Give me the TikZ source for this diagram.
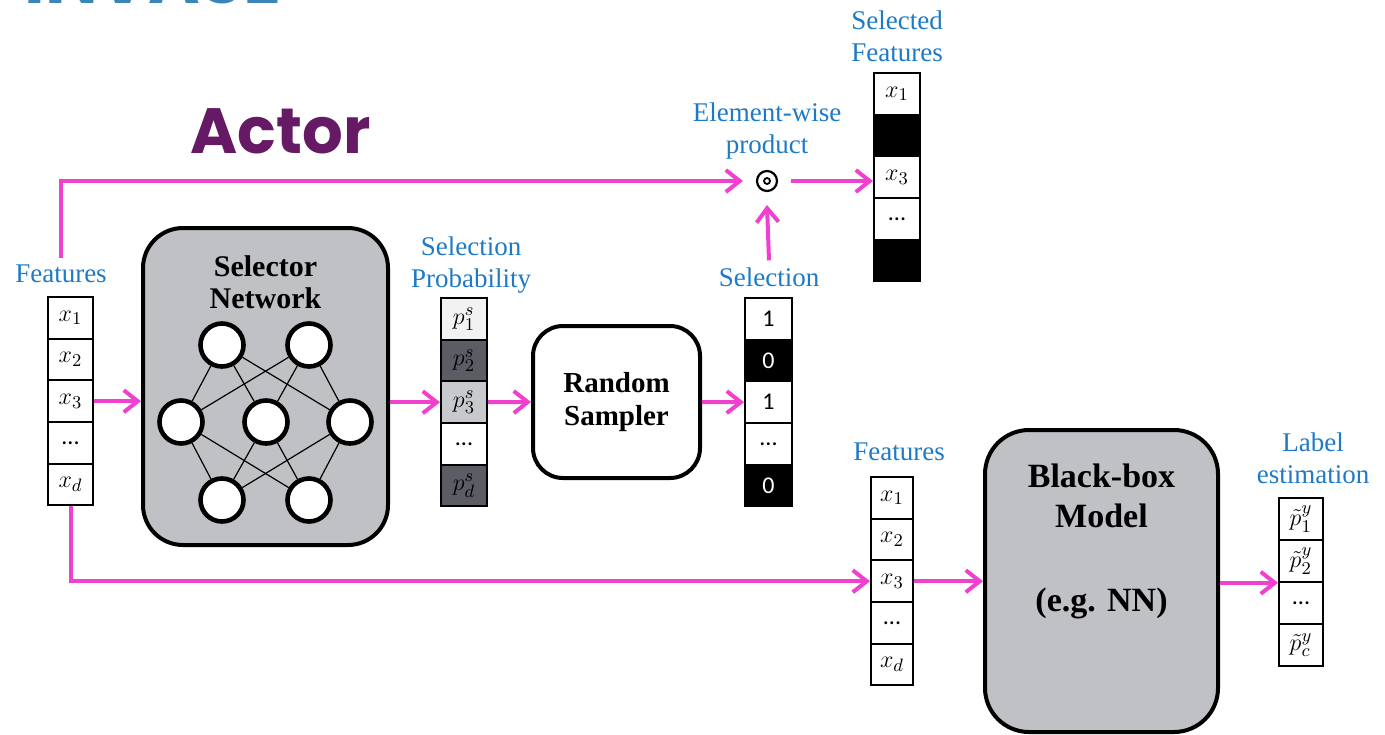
\documentclass[tikz,border=0pt]{standalone}
\usepackage{fontspec}
\setmainfont{Liberation Serif}
\newfontfamily\calfont{Carlito}
\newfontfamily\titlefont{Poppins}
\usetikzlibrary{arrows.meta}
\definecolor{flowpink}{RGB}{240,64,208}
\definecolor{labelblue}{RGB}{30,122,198}
\definecolor{titleblue}{RGB}{58,134,186}
\definecolor{actorpurple}{RGB}{102,26,102}
\definecolor{boxgray}{RGB}{192,193,197}
\definecolor{darkcell}{RGB}{92,93,100}
\definecolor{midcell}{RGB}{200,201,204}
\definecolor{lightcell}{RGB}{242,242,242}
\newcommand{\celldots}{{\calfont\fontsize{12}{12}\selectfont ...}}
\begin{document}
\begin{tikzpicture}[x=0.5pt,y=-0.5pt,
  lbl/.style={text=labelblue, font=\fontsize{13.5}{16}\selectfont, align=center},
  cellbox/.style={draw, line width=1pt, minimum height=20.8pt, inner sep=0pt,
    font=\fontsize{12.5}{12.5}\selectfont},
  numcell/.style={cellbox, font=\calfont\fontsize{12}{12}\selectfont},
  blk/.style={fill=black, text=white},
  bigbox/.style={draw, line width=2pt, fill=boxgray},
  neuron/.style={circle, draw, fill=white, line width=2.3pt, minimum size=21.5pt, inner sep=0pt},
  flow/.style={draw=flowpink, line width=2pt, -{Straight Barb[length=7pt,width=11pt]}}]
\useasboundingbox (0,0) rectangle (1385,734);

% titles
\begin{scope}
  \clip (0,0) rectangle (1385,734);
  \node[anchor=base west, inner sep=0pt, text=titleblue,
        font=\titlefont\bfseries\fontsize{35}{35}\selectfont] (title) at (24,3) {INVASE};
\end{scope}
\node[anchor=base west, inner sep=0pt, text=actorpurple,
      font=\titlefont\bfseries\fontsize{32}{32}\selectfont] (actor) at (190,153) {Actor};

% input features
\node[lbl] (flab) at (61,274) {Features};
\begin{scope}[every node/.style={cellbox, minimum width=22.5pt}]
  \node (f1) at (70.5,318) {$x_1$};
  \node (f2) at (70.5,359.6) {$x_2$};
  \node (f3) at (70.5,401.2) {$x_3$};
  \node (f4) at (70.5,442.8) {\celldots};
  \node (f5) at (70.5,484.4) {$x_d$};
\end{scope}

% selector network
\node[bigbox, rounded corners=20pt, minimum width=122.5pt, minimum height=158.5pt] (sel) at (265.5,386.5) {};
\node[font=\bfseries\fontsize{15}{16}\selectfont, align=center] (seltxt) at (265.5,282) {Selector\\Network};
\node[neuron] (n1) at (222,345) {};
\node[neuron] (n2) at (309,345) {};
\node[neuron] (m1) at (181,422) {};
\node[neuron] (m2) at (266,422) {};
\node[neuron] (m3) at (350,422) {};
\node[neuron] (b1) at (222,500) {};
\node[neuron] (b2) at (309,500) {};
\begin{scope}[line width=0.6pt]
  \foreach \t in {n1,n2}{\foreach \m in {m1,m2,m3}{\draw (\t) -- (\m);}}
  \foreach \m in {m1,m2,m3}{\foreach \b in {b1,b2}{\draw (\m) -- (\b);}}
\end{scope}

% selection probability
\node[lbl] (splab) at (471,265) {Selection\\Probability};
\begin{scope}[every node/.style={cellbox, minimum width=23pt}]
  \node[fill=lightcell] (p1) at (464,319) {$p_1^s$};
  \node[fill=darkcell] (p2) at (464,360.6) {$p_2^s$};
  \node[fill=midcell] (p3) at (464,402.2) {$p_3^s$};
  \node (p4) at (464,443.8) {\celldots};
  \node[fill=darkcell] (p5) at (464,485.4) {$p_d^s$};
\end{scope}

% random sampler
\node[draw, line width=2pt, fill=white, rounded corners=15pt, minimum width=83.5pt, minimum height=76pt,
      font=\bfseries\fontsize{14.5}{16.5}\selectfont, align=center] (rs) at (616.5,402) {Random\\Sampler};

% selection vector
\node[lbl] (sellab) at (769,277) {Selection};
\begin{scope}[every node/.style={numcell, minimum width=23.5pt}]
  \node (s1) at (768.5,319) {1};
  \node[blk] (s2) at (768.5,360.6) {0};
  \node (s3) at (768.5,402.2) {1};
  \node (s4) at (768.5,443.8) {...};
  \node[blk] (s5) at (768.5,485.4) {0};
\end{scope}

% element-wise product
\node[lbl] (eplab) at (767,131) {Element-wise\\product};
\node[circle, draw, line width=1.1pt, minimum size=10pt, inner sep=0pt, outer sep=7pt] (prod) at (767,181) {};
\draw[line width=0.9pt] (prod.center) circle[radius=3];

% selected features
\node[lbl] (sflab) at (897,36) {Selected\\Features};
\begin{scope}[every node/.style={cellbox, minimum width=23pt}]
  \node (sf1) at (897,94) {$x_1$};
  \node[blk] (sf2) at (897,135.6) {};
  \node (sf3) at (897,177.2) {$x_3$};
  \node (sf4) at (897,218.8) {\celldots};
  \node[blk] (sf5) at (897,260.4) {};
\end{scope}

% features for the black-box model
\node[lbl] (f2lab) at (899,452) {Features};
\begin{scope}[every node/.style={cellbox, minimum width=21pt}]
  \node (g1) at (892,498) {$x_1$};
  \node (g2) at (892,539.6) {$x_2$};
  \node (g3) at (892,581.2) {$x_3$};
  \node (g4) at (892,622.8) {\celldots};
  \node (g5) at (892,664.4) {$x_d$};
\end{scope}

% black-box model
\node[bigbox, rounded corners=22pt, minimum width=116.5pt, minimum height=151pt] (bb) at (1101.5,581) {};
\node[font=\bfseries\fontsize{17}{20}\selectfont, align=center] (bbtxt) at (1101.5,496) {Black-box\\Model};
\node[font=\bfseries\fontsize{17}{20}\selectfont] (bbeg) at (1101.5,603) {(e.g. NN)};

% label estimation
\node[lbl] (lelab) at (1313,458) {Label\\estimation};
\begin{scope}[every node/.style={cellbox, minimum width=22pt}]
  \node (l1) at (1301,519) {$\tilde{p}_1^{y}$};
  \node (l2) at (1301,561) {$\tilde{p}_2^{y}$};
  \node (l3) at (1301,603) {\celldots};
  \node (l4) at (1301,645) {$\tilde{p}_c^{y}$};
\end{scope}
\coordinate (lin) at (l2.south west);

% connectors
\draw[flow] (f3.east) -- (f3.east -| sel.west);
\draw[flow] (p3.west -| sel.east) -- (p3.west);
\draw[flow] (p3.east) -- (rs.west);
\draw[flow] (rs.east) -- (s3.west);
\draw[flow] (flab.north) |- (prod.west);
\draw[flow] (sellab.north) -- (prod.south);
\draw[flow] (prod.east) -- (prod.east -| sf3.west);
\draw[flow] (f5.south) |- (g3.west);
\draw[flow] (g3.east) -- (g3.east -| bb.west);
\draw[flow] (lin -| bb.east) -- (lin);
\end{tikzpicture}
\end{document}
